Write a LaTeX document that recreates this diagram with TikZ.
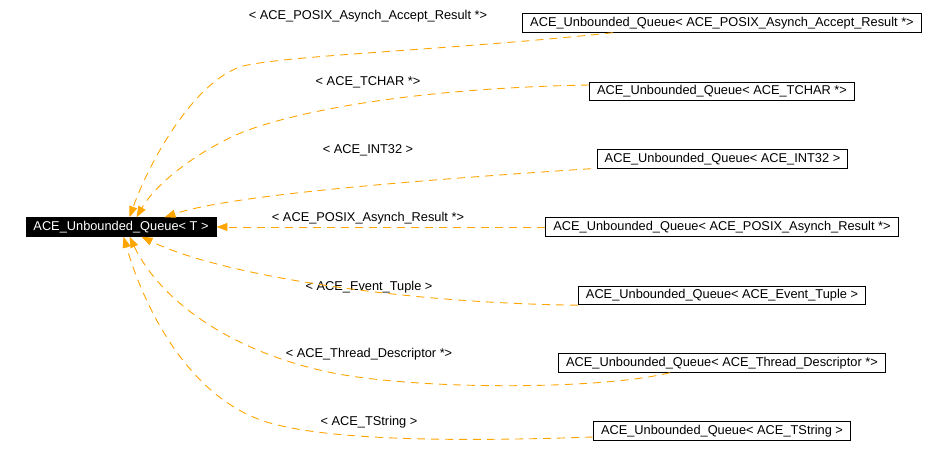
\documentclass[tikz,border=0pt]{standalone}
\usepackage{fontspec}
\setmainfont{Liberation Sans}
\usetikzlibrary{arrows.meta}
\definecolor{edgeorange}{HTML}{FFA500}
\begin{document}
\begin{tikzpicture}[x=1pt,y=-1pt, every node/.style={font=\fontsize{12.8}{15}\selectfont},
  box/.style={draw=black,line width=0.9pt,inner xsep=7.5pt,inner ysep=0pt,minimum height=18.5pt},
  edge/.style={edgeorange,dash pattern=on 8pt off 6pt,line width=0.9pt,-{Triangle[length=11pt,width=8pt]}}]
\useasboundingbox (0,0) rectangle (948,458);
\node[box,fill=black,text=white] (main) at (121,227) {ACE\_Unbounded\_Queue< T >};
\node[box] (b1) at (722,23) {ACE\_Unbounded\_Queue< ACE\_POSIX\_Asynch\_Accept\_Result *>};
\node[box] (b2) at (722,91.5) {ACE\_Unbounded\_Queue< ACE\_TCHAR *>};
\node[box] (b3) at (722.5,159) {ACE\_Unbounded\_Queue< ACE\_INT32 >};
\node[box] (b4) at (722,227) {ACE\_Unbounded\_Queue< ACE\_POSIX\_Asynch\_Result *>};
\node[box] (b5) at (722,295.5) {ACE\_Unbounded\_Queue< ACE\_Event\_Tuple >};
\node[box] (b6) at (722,363) {ACE\_Unbounded\_Queue< ACE\_Thread\_Descriptor *>};
\node[box] (b7) at (722,431) {ACE\_Unbounded\_Queue< ACE\_TString >};
% template arguments
\node (l1) at (368,16) {< ACE\_POSIX\_Asynch\_Accept\_Result *>};
\node (l2) at (368,82) {< ACE\_TCHAR *>};
\node (l3) at (368,150) {< ACE\_INT32 >};
\node (l4) at (368,218) {< ACE\_POSIX\_Asynch\_Result *>};
\node (l5) at (369,287) {< ACE\_Event\_Tuple >};
\node (l6) at (369,354) {< ACE\_Thread\_Descriptor *>};
\node (l7) at (369,422) {< ACE\_TString >};
% instantiation edges
\draw[edge] ([xshift=-109pt]b1.south) .. controls (450,50) and (290,55) .. (243,66) .. controls (195,80) and (150,160) .. ([xshift=104pt]main.north west);
\draw[edge] ([yshift=6.5pt]b2.west) .. controls (420,88) and (300,110) .. (243,132) .. controls (195,152) and (155,185) .. ([xshift=111pt]main.north west);
\draw[edge] ([xshift=-6pt]b3.south west) .. controls (420,180) and (230,195) .. ([xshift=139pt]main.north west);
\draw[edge] (b4.west) -- (main.east);
\draw[edge] (b5.south west) .. controls (400,303) and (220,275) .. ([xshift=116pt]main.south west);
\draw[edge] ([xshift=-52pt]b6.south) .. controls (600,390) and (420,390) .. (333,373) .. controls (230,352) and (160,300) .. ([xshift=104pt]main.south west);
\draw[edge] ([yshift=-6pt]b7.west) .. controls (450,442) and (330,440) .. (270,423) .. controls (190,400) and (145,310) .. ([xshift=98pt]main.south west);
\end{tikzpicture}
\end{document}
